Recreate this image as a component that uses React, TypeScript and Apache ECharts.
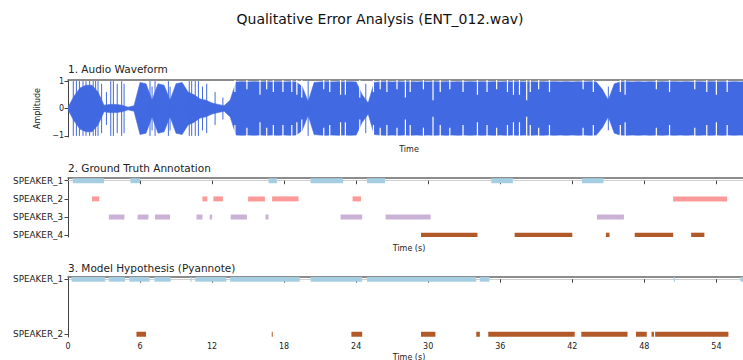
import React, { useEffect, useRef } from "react";
import * as echarts from "echarts";

// ---------- DATA ----------
const X_MAX = 56.8;
const xTicks = [0, 6, 12, 18, 24, 30, 36, 42, 48, 54];

// Waveform envelope (peak amplitude of the dense body) sampled every 0.5 s from t = 0
const WAVE_STEP = 0.5;
const waveEnvelope = [
  0.05, 0.45, 0.75, 0.85, 0.85, 0.6, 0.12, 0.15, 0.15, 0.12, 0.05, 0.1,
  0.95, 0.9, 0.3, 0.9, 0.85, 0.3, 0.9, 0.95, 0.6, 0.5, 0.35, 0.3,
  0.2, 0.15, 0.1, 0.3, 0.97, 0.98, 0.97, 0.98, 0.97, 0.98, 0.97, 0.98,
  0.97, 0.98, 0.97, 0.8, 0.25, 0.95, 0.97, 0.98, 0.97, 0.98, 0.97, 0.98,
  0.97, 0.5, 0.2, 0.95, 0.97, 0.98, 0.97, 0.98, 0.97, 0.98, 0.97, 0.98,
  0.97, 0.98, 0.97, 0.98, 0.97, 0.98, 0.97, 0.98, 0.97, 0.98, 0.97, 0.98,
  0.97, 0.98, 0.97, 0.98, 0.97, 0.98, 0.97, 0.98, 0.97, 0.98, 0.97, 0.98,
  0.97, 0.98, 0.97, 0.98, 0.97, 0.7, 0.3, 0.9, 0.97, 0.98, 0.97, 0.98,
  0.97, 0.98, 0.97, 0.98, 0.97, 0.98, 0.97, 0.98, 0.97, 0.98, 0.97, 0.98,
  0.97, 0.98, 0.97, 0.98, 0.97, 0.98,
];

// Isolated peaks reaching out of the quieter parts: [time, amplitude]
const waveSpikes: [number, number][] = [
  [0.44, 1.0], [0.7, 1.0], [0.95, 1.0], [1.25, 1.0], [1.5, 1.0], [1.8, 1.0], [2.1, 1.0],
  [2.3, 1.0], [2.5, 1.0], [2.8, 0.9], [3.2, 0.6], [3.56, 1.0], [3.78, 1.0], [4.1, 0.9],
  [4.47, 1.0], [4.67, 0.9], [6.83, 1.0], [7.0, 0.8], [7.25, 1.0], [8.36, 1.0], [8.5, 0.8],
  [10.1, 1.0], [10.3, 1.0], [10.6, 1.0], [10.86, 1.0], [11.2, 0.8], [11.55, 0.9],
  [12.25, 0.6], [12.9, 0.4], [20.0, 1.0], [24.8, 0.9], [45.0, 0.8],
];

// Short drop-outs inside the loud parts: [time, remaining amplitude]
const waveDips: [number, number][] = [
  [13.9, 0.6], [14.9, 0.7], [15.99, 0.5], [16.55, 0.7], [17.1, 0.6], [17.9, 0.6],
  [18.64, 0.6], [19.06, 0.5], [19.47, 0.4], [21.3, 0.7], [21.8, 0.6], [22.7, 0.5],
  [23.1, 0.5], [24.3, 0.4], [25.44, 0.6], [26.0, 0.7], [26.56, 0.6], [27.4, 0.7],
  [28.1, 0.4], [28.5, 0.6], [29.6, 0.7], [30.4, 0.3], [31.0, 0.6], [31.8, 0.7],
  [32.9, 0.6], [34.1, 0.5], [34.9, 0.6], [35.7, 0.7], [36.6, 0.6], [37.1, 0.5],
  [37.6, 0.5], [38.2, 0.3], [38.5, 0.6], [39.2, 0.7], [40.1, 0.6], [42.9, 0.7],
  [43.75, 0.6], [46.0, 0.6], [46.4, 0.5], [49.0, 0.7], [50.1, 0.6], [52.2, 0.7],
  [53.2, 0.6], [54.0, 0.5], [54.9, 0.6],
];

const gtSpeakers = ["SPEAKER_1", "SPEAKER_2", "SPEAKER_3", "SPEAKER_4"];
const gtColors = ["#a6cee3", "#fb9a99", "#cab2d6", "#b15928"];
// [speaker index, start s, end s]
const gtSegments: [number, number, number][] = [
  [0, 0.4, 3.0], [0, 5.2, 6.0], [0, 16.7, 17.4], [0, 20.2, 22.9], [0, 24.9, 26.4],
  [0, 35.25, 37.05], [0, 42.8, 44.6],
  [1, 2.0, 2.6], [1, 11.2, 11.6], [1, 12.1, 12.9], [1, 15.0, 16.4], [1, 17.0, 19.2],
  [1, 23.7, 24.4], [1, 50.4, 54.9],
  [2, 3.4, 4.7], [2, 5.8, 6.7], [2, 7.25, 8.5], [2, 10.7, 11.2], [2, 11.8, 12.0],
  [2, 13.55, 14.9], [2, 16.45, 16.7], [2, 22.7, 24.5], [2, 26.45, 30.2], [2, 44.05, 46.3],
  [3, 29.4, 34.1], [3, 37.2, 42.0], [3, 44.8, 45.1], [3, 47.2, 50.4], [3, 51.9, 53.0],
];

const hypSpeakers = ["SPEAKER_1", "SPEAKER_2"];
const hypColors = ["#a6cee3", "#b15928"];
const hypSegments: [number, number, number][] = [
  [0, 0.3, 3.1], [0, 3.4, 4.75], [0, 5.1, 6.8], [0, 7.2, 8.55], [0, 10.2, 10.3],
  [0, 10.6, 13.2], [0, 13.5, 19.3], [0, 20.2, 24.5], [0, 24.9, 34.0], [0, 34.3, 35.1],
  [0, 50.45, 50.55], [0, 56.0, 56.8],
  [1, 5.7, 6.5], [1, 16.97, 17.05], [1, 23.6, 24.5], [1, 29.4, 30.6], [1, 34.0, 34.3],
  [1, 35.0, 42.2], [1, 42.75, 46.6], [1, 47.3, 48.2], [1, 48.6, 48.8], [1, 48.9, 55.0],
];

// ---------- CHART ----------
const FONT = "DejaVu Sans";
const WAVE = "#4169e1";

function segRender(colors: string[]) {
  return (params: any, api: any) => {
    const row = api.value(0);
    const p0 = api.coord([api.value(1), row]);
    const p1 = api.coord([api.value(2), row]);
    const h = 5;
    const cs = params.coordSys;
    const rect = echarts.graphic.clipRectByRect(
      { x: p0[0], y: p0[1] - h / 2, width: Math.max(p1[0] - p0[0], 0.8), height: h },
      { x: cs.x, y: cs.y, width: cs.width, height: cs.height }
    );
    return rect ? { type: "rect", shape: rect, style: { fill: colors[row] } } : null;
  };
}

function vlineRender(color: string, fromEdge: boolean) {
  return (_params: any, api: any) => {
    const t = api.value(0);
    const a = api.value(1);
    const lines: any[] = [];
    if (fromEdge) {
      const top = api.coord([t, 1.04]);
      const up = api.coord([t, a]);
      const dn = api.coord([t, -a]);
      const bot = api.coord([t, -1.04]);
      lines.push({ type: "line", shape: { x1: top[0], y1: top[1], x2: up[0], y2: up[1] }, style: { stroke: color, lineWidth: 1.2 } });
      lines.push({ type: "line", shape: { x1: dn[0], y1: dn[1], x2: bot[0], y2: bot[1] }, style: { stroke: color, lineWidth: 1.2 } });
    } else {
      const up = api.coord([t, a]);
      const dn = api.coord([t, -a]);
      lines.push({ type: "line", shape: { x1: up[0], y1: up[1], x2: dn[0], y2: dn[1] }, style: { stroke: color, lineWidth: 1 } });
    }
    return { type: "group", children: lines };
  };
}

const tickLabelStyle = { fontFamily: FONT, fontSize: 8, color: "#222" };
const speakerLabelStyle = { fontFamily: FONT, fontSize: 8.8, color: "#222" };

function bottomX(gridIndex: number, name: string, nameGap: number, showLabels: boolean) {
  return {
    type: "value",
    gridIndex,
    min: 0,
    max: X_MAX,
    interval: 6,
    name,
    nameLocation: "middle",
    nameGap,
    nameTextStyle: { fontFamily: FONT, fontSize: 8, color: "#222" },
    axisLine: { show: true, lineStyle: { color: "#cfcfcf", width: 1.2 } },
    axisTick: { show: true, length: 3.5, lineStyle: { color: "#444", width: 1 }, customValues: xTicks },
    axisLabel: {
      show: showLabels,
      margin: 5,
      ...tickLabelStyle,
      customValues: xTicks,
    },
    splitLine: { show: false },
  };
}

function topX(gridIndex: number) {
  return {
    type: "value",
    gridIndex,
    position: "top",
    min: 0,
    max: X_MAX,
    axisLine: { show: true, onZero: false, lineStyle: { color: "#666", width: 1.5 } },
    axisTick: { show: false },
    axisLabel: { show: false },
    splitLine: { show: false },
  };
}

function buildOption() {
  const upper = waveEnvelope.map((v, i) => [i * WAVE_STEP, v]);
  const lower = waveEnvelope.map((v, i) => [i * WAVE_STEP, -v]);
  const zeroLine = [[0, 0], [(waveEnvelope.length - 1) * WAVE_STEP, 0]];
  const leftAxisLine = { show: true, onZero: false, lineStyle: { color: "#444", width: 1 } };
  const yTick = { show: true, length: 3.5, lineStyle: { color: "#444" } };
  const gridBase = { left: 68, width: 682, outerBoundsMode: "none", containLabel: false };

  return {
    animation: false,
    backgroundColor: "#ffffff",
    textStyle: { fontFamily: FONT },
    graphic: [
      { type: "text", x: 380, y: 19, style: { text: "Qualitative Error Analysis (ENT_012.wav)", font: `14px "${FONT}"`, fill: "#111", textAlign: "center", textVerticalAlign: "middle" } },
      { type: "text", x: 68, y: 69, style: { text: "1. Audio Waveform", font: `10.5px "${FONT}"`, fill: "#222", textAlign: "left", textVerticalAlign: "middle" } },
      { type: "text", x: 68, y: 168, style: { text: "2. Ground Truth Annotation", font: `10.5px "${FONT}"`, fill: "#222", textAlign: "left", textVerticalAlign: "middle" } },
      { type: "text", x: 68, y: 268, style: { text: "3. Model Hypothesis (Pyannote)", font: `10.5px "${FONT}"`, fill: "#222", textAlign: "left", textVerticalAlign: "middle" } },
    ],
    grid: [
      { ...gridBase, top: 80, height: 57 },
      { ...gridBase, top: 178, height: 59 },
      { ...gridBase, top: 277, height: 60 },
    ],
    xAxis: [
      bottomX(0, "Time", 8, false),
      bottomX(1, "Time (s)", 7, false),
      bottomX(2, "Time (s)", 16, true),
      topX(0),
      topX(1),
      topX(2),
    ],
    yAxis: [
      {
        type: "value",
        gridIndex: 0,
        min: -1.04,
        max: 1.04,
        name: "Amplitude",
        nameLocation: "middle",
        nameGap: 20,
        nameRotate: 90,
        nameTextStyle: { fontFamily: FONT, fontSize: 8, color: "#222" },
        axisLine: leftAxisLine,
        axisTick: { ...yTick, customValues: [-1, 0, 1] },
        axisLabel: { ...tickLabelStyle, margin: 4, customValues: [-1, 0, 1], formatter: (v: number) => (v < 0 ? "\u2212" + Math.abs(v) : String(v)) },
        splitLine: { show: false },
      },
      {
        type: "value",
        gridIndex: 1,
        min: -0.15,
        max: 3.1,
        inverse: true,
        axisLine: leftAxisLine,
        axisTick: { ...yTick, customValues: [0, 1, 2, 3] },
        axisLabel: { ...speakerLabelStyle, margin: 5, customValues: [0, 1, 2, 3], formatter: (v: number) => gtSpeakers[v] ?? "" },
        splitLine: { show: false },
      },
      {
        type: "value",
        gridIndex: 2,
        min: -0.04,
        max: 1.05,
        inverse: true,
        axisLine: leftAxisLine,
        axisTick: { ...yTick, customValues: [0, 1] },
        axisLabel: { ...speakerLabelStyle, margin: 5, customValues: [0, 1], formatter: (v: number) => hypSpeakers[v] ?? "" },
        splitLine: { show: false },
      },
    ],
    series: [
      {
        type: "line", xAxisIndex: 0, yAxisIndex: 0, data: upper, symbol: "none",
        lineStyle: { color: WAVE, width: 0.6 }, areaStyle: { color: WAVE, opacity: 1, origin: 0 }, z: 2,
      },
      {
        type: "line", xAxisIndex: 0, yAxisIndex: 0, data: lower, symbol: "none",
        lineStyle: { color: WAVE, width: 0.6 }, areaStyle: { color: WAVE, opacity: 1, origin: 0 }, z: 2,
      },
      {
        type: "line", xAxisIndex: 0, yAxisIndex: 0, data: zeroLine, symbol: "none",
        lineStyle: { color: WAVE, width: 1.5 }, z: 2,
      },
      {
        type: "custom", xAxisIndex: 0, yAxisIndex: 0, data: waveSpikes, renderItem: vlineRender(WAVE, false),
        encode: { x: 0, y: 1 }, clip: true, z: 3,
      },
      {
        type: "custom", xAxisIndex: 0, yAxisIndex: 0, data: waveDips, renderItem: vlineRender("#ffffff", true),
        encode: { x: 0, y: 1 }, clip: true, z: 4,
      },
      {
        type: "custom", xAxisIndex: 1, yAxisIndex: 1, data: gtSegments, renderItem: segRender(gtColors),
        encode: { x: [1, 2], y: 0 }, z: 2,
      },
      {
        type: "custom", xAxisIndex: 2, yAxisIndex: 2, data: hypSegments, renderItem: segRender(hypColors),
        encode: { x: [1, 2], y: 0 }, z: 2,
      },
    ],
  };
}

export default function App() {
  const ref = useRef<HTMLDivElement>(null);
  useEffect(() => {
    document.body.style.margin = "0";
    if (!ref.current) return;
    const chart = echarts.init(ref.current, undefined, { renderer: "svg" });
    chart.setOption(buildOption() as any);
    return () => chart.dispose();
  }, []);
  return <div ref={ref} style={{ width: 743, height: 360, overflow: "hidden" }} />;
}
